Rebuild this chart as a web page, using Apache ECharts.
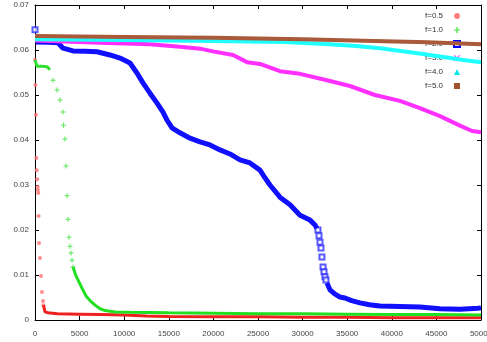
<!DOCTYPE html>
<html>
<head>
<meta charset="utf-8">
<script src="https://cdn.jsdelivr.net/npm/echarts@6/dist/echarts.min.js"></script>
<style>
  html, body { margin: 0; padding: 0; background: #fff; }
  #chart { width: 487px; height: 342px; }
</style>
</head>
<body>
<div id="chart"></div>
<script>
const names = ["f=0.5", "f=1.0", "f=2.0", "f=3.0", "f=4.0", "f=5.0"];
const xTicks = [0, 50000, 5000];
const yTicks = [0, 0.07, 0.01];

// f=0.5
const redDrop = [[0,0.0578],[50,0.0522],[100,0.0456],[150,0.036],[200,0.0333],[250,0.0313],[300,0.0296],[330,0.0289],[360,0.0282],[400,0.0231],[450,0.0171],[560,0.0138],[670,0.0098],[780,0.0062],[900,0.0042],[950,0.0033]];
const redBand = [[950,0.0033],[1120,0.0018],[1450,0.0016],[2500,0.0014],[5000,0.0013],[7500,0.0012],[10000,0.0011],[12500,0.0009],[15000,0.0008],[20000,0.0007],[25000,0.0007],[30000,0.0006],[35000,0.0006],[40000,0.0005],[45000,0.0005],[50000,0.0005]];

// f=1.0
const greenTop = [[0,0.0578],[224,0.0564],[700,0.0564],[1345,0.0563],[1680,0.0556]];
const greenDrop = [[2020,0.0533],[2470,0.0511],[2800,0.0489],[3140,0.0462],[3200,0.0433],[3360,0.0402],[3475,0.0342],[3590,0.0276],[3700,0.0224],[3810,0.0184],[3920,0.0164],[4035,0.0149],[4150,0.0133],[4260,0.0118]];
const greenBand = [[4260,0.0118],[4600,0.0098],[4900,0.0086],[5270,0.0071],[5700,0.0054],[6170,0.0043],[6730,0.0033],[7300,0.0025],[7850,0.0021],[9000,0.0018],[10650,0.0017],[15000,0.0016],[20000,0.0015],[25000,0.0014],[30000,0.0014],[35000,0.0013],[40000,0.0012],[45000,0.0012],[50000,0.0011]];

// f=2.0
const blueBand1 = [[100,0.0618],[1500,0.0617],[2580,0.0616],[3140,0.0604],[4260,0.0598],[5600,0.0597],[6950,0.0596],[8400,0.0589],[9530,0.0582],[10650,0.0571],[11430,0.0549],[12100,0.0527],[12890,0.0504],[13680,0.0482],[14350,0.0462],[14800,0.0444],[15360,0.0427],[16250,0.0416],[17380,0.0404],[18500,0.0396],[19620,0.0389],[20740,0.0378],[21860,0.0369],[22980,0.0356],[24100,0.0349],[25220,0.0333],[25780,0.0316],[26340,0.03],[27460,0.0273],[28590,0.0256],[29710,0.0233],[30830,0.0222],[31390,0.0211],[31600,0.0204]];
const blueDrop = [[0,0.0645],[31720,0.02],[31840,0.0187],[31950,0.0173],[32060,0.016],[32170,0.014],[32290,0.0118],[32400,0.0107],[32510,0.0096],[32620,0.0089]];
const blueBand2 = [[32730,0.0082],[33070,0.0067],[33600,0.0058],[34190,0.0051],[34750,0.0049],[35500,0.0043],[36430,0.0038],[37500,0.0034],[38670,0.0031],[40910,0.003],[43150,0.0029],[45400,0.0025],[47640,0.0024],[49660,0.0026],[50000,0.0027]];

// f=3.0
const magenta = [[0,0.0621],[7290,0.0616],[12890,0.0613],[16250,0.0607],[18500,0.0603],[19950,0.0597],[22200,0.0589],[23770,0.0573],[25220,0.0569],[27460,0.0553],[29710,0.0547],[33070,0.0531],[35310,0.052],[38110,0.05],[40910,0.0487],[43150,0.0471],[45400,0.0453],[47640,0.0432],[49000,0.042],[50000,0.0417]];

// f=4.0
const cyan = [[0,0.0624],[10000,0.0622],[20000,0.062],[28000,0.0618],[33000,0.0613],[36000,0.0609],[38700,0.0604],[41000,0.0598],[43500,0.0591],[46000,0.0584],[48000,0.0578],[50000,0.0573]];

// f=5.0
const brown = [[0,0.0631],[10000,0.0629],[20000,0.0627],[30000,0.0624],[38000,0.062],[44000,0.0617],[50000,0.0613]];

const plusPath = "path://M4,0H6V4H10V6H6V10H4V6H0V4H4Z";
const crossPath = "path://M0,1L1,0L5,4L9,0L10,1L6,5L10,9L9,10L5,6L1,10L0,9L4,5Z";

const font = "Liberation Sans";

const chart = echarts.init(document.getElementById("chart"));

function band(name, data, color, width) {
  return {
    name: name,
    type: "line",
    data: data,
    showSymbol: false,
    color: color,
    lineStyle: { color: color, width: width },
    silent: true,
    animation: false,
  };
}

function dots(name, data, color, symbol, size) {
  return {
    name: name,
    type: "scatter",
    data: data,
    symbol: symbol,
    symbolSize: size,
    color: color,
    itemStyle: { color: color },
    silent: true,
    animation: false,
  };
}

const tickStyle = { inside: true, length: 4, lineStyle: { color: "#000" } };
const lineStyleAx = { show: true, onZero: false, lineStyle: { color: "#000", width: 1 } };

const option = {
  animation: false,
  grid: { left: 35, right: 6, top: 5, bottom: 22, outerBoundsMode: "none", containLabel: false },
  legend: {
    orient: "vertical",
    right: 26,
    top: 12,
    padding: 0,
    align: "right",
    itemWidth: 6,
    itemHeight: 6,
    itemGap: 6,
    z: 1,
    selectedMode: false,
    textStyle: { fontSize: 8, color: "#333", fontFamily: font, padding: [0, 6, 0, 0] },
    data: [
      { name: names[0], icon: "circle", itemStyle: { color: "#ff8080" } },
      { name: names[1], icon: plusPath, itemStyle: { color: "#40e040" } },
      { name: names[2], icon: "emptyRect", itemStyle: { color: "#0000ff" } },
      { name: names[3], icon: crossPath, itemStyle: { color: "#ff00ff" } },
      { name: names[4], icon: "triangle", itemStyle: { color: "#00e8e8" } },
      { name: names[5], icon: "rect", itemStyle: { color: "#a0522d" } },
    ],
  },
  xAxis: [
    {
      type: "value",
      min: xTicks[0], max: xTicks[1], interval: xTicks[2],
      axisLine: lineStyleAx,
      axisTick: tickStyle,
      splitLine: { show: false },
      axisLabel: {
        fontSize: 8, color: "#444", fontFamily: font, margin: 10,
        formatter: (v) => String(v),
      },
    },
    {
      type: "value", position: "top",
      min: xTicks[0], max: xTicks[1], interval: xTicks[2],
      axisLine: lineStyleAx,
      axisTick: tickStyle,
      splitLine: { show: false },
      axisLabel: { show: false },
    },
  ],
  yAxis: [
    {
      type: "value",
      min: yTicks[0], max: yTicks[1], interval: yTicks[2],
      axisLine: lineStyleAx,
      axisTick: tickStyle,
      splitLine: { show: false },
      axisLabel: {
        fontSize: 8, color: "#444", fontFamily: font, margin: 6,
        formatter: (v) => (v === 0 ? "0" : v.toFixed(2)),
      },
    },
    {
      type: "value", position: "right",
      min: yTicks[0], max: yTicks[1], interval: yTicks[2],
      axisLine: lineStyleAx,
      axisTick: tickStyle,
      splitLine: { show: false },
      axisLabel: { show: false },
    },
  ],
  series: [
    band(names[0], redBand, "#ee2020", 3),
    dots(names[0], redDrop, "#ff7070", "circle", 4),
    band(names[1], greenTop, "#30e030", 3),
    dots(names[1], greenDrop, "#30e030", plusPath, 5),
    band(names[1], greenBand, "#20e020", 3),
    band(names[2], blueBand1, "#1010ff", 5),
    dots(names[2], blueDrop, "#3030ff", "emptyRect", 5),
    band(names[2], blueBand2, "#1010ff", 5),
    band(names[3], magenta, "#ff30ff", 4),
    band(names[4], cyan, "#20ffff", 4),
    band(names[5], brown, "#a85a3a", 4),
  ],
};

chart.setOption(option);
window.addEventListener("resize", () => chart.resize());
</script>
</body>
</html>
